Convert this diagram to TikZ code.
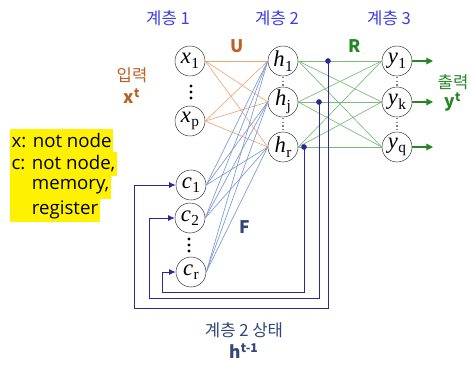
\documentclass[tikz,border=0pt]{standalone}
\usepackage{fontspec}
\setmainfont{Noto Sans CJK KR}
\newfontfamily\notefont{Open Sans}
\newfontfamily\tmfont{Liberation Serif}
\usetikzlibrary{arrows.meta,calc}
\definecolor{lyrblue}{RGB}{60,60,235}
\definecolor{inbrown}{RGB}{190,95,35}
\definecolor{outgreen}{RGB}{35,135,35}
\definecolor{fbnavy}{RGB}{45,40,150}
\definecolor{stblue}{RGB}{50,70,120}
\definecolor{uorange}{RGB}{238,168,120}
\definecolor{fblue}{RGB}{125,155,210}
\definecolor{rgreen}{RGB}{120,188,120}
\tikzset{
  neuron/.style={circle,draw=black!75,thin,fill=white,minimum size=22.5pt,inner sep=0pt},
  lbl/.style={font=\fontsize{12.5}{14}\selectfont},
  blbl/.style={font=\bfseries\fontsize{13}{14}\selectfont},
  ulink/.style={uorange,line width=0.5pt},   % U weights
  flink/.style={fblue,line width=0.5pt},     % F weights
  rlink/.style={rgreen,line width=0.5pt},    % R weights
  fback/.style={fbnavy,line width=0.7pt,-{Latex[length=5pt,width=4.5pt]}},
  outarr/.style={outgreen,line width=0.9pt,-{Triangle[length=5pt,width=5pt]}},
  jdot/.style={circle,fill=fbnavy,inner sep=1.5pt},
  note/.style={fill=yellow,anchor=west,inner xsep=1pt,inner ysep=0pt,minimum height=17.4pt,
               font=\notefont\fontsize{14}{15}\selectfont},
  vdots/.style={gray,dotted,line width=0.8pt},
}
\newcommand{\unitlbl}[2]{% letter, index
  {\tmfont\fontsize{17}{17}\selectfont\itshape #1}\kern0.3pt\raisebox{-3.5pt}{\tmfont\fontsize{11.5}{12}\selectfont #2}%
}
\newcommand{\unitdots}[3]{% x, y1, y2
  \draw[vdots] (#1,#2) -- (#1,#3);
}
\newcommand{\bigdots}[2]{% x, y of middle dot
  \foreach \k in {-6,0,6} \fill (#1,#2+\k) circle (1.6);
}

\begin{document}
\begin{tikzpicture}[x=0.75pt,y=-0.75pt]
  \useasboundingbox (0,0) rectangle (470,372);
  % layer titles
  \node[lbl,lyrblue] (t1) at (168,18) {계층 1};
  \node[lbl,lyrblue] (t2) at (277,18) {계층 2};
  \node[lbl,lyrblue] (t3) at (389,18) {계층 3};
  % input and context units
  \node[neuron] (x1) at (190,61) {\unitlbl{x}{1}};
  \node[neuron] (xp) at (190,121) {\unitlbl{x}{p}};
  \node[neuron] (c1) at (191,185) {\unitlbl{c}{1}};
  \node[neuron] (c2) at (190,218) {\unitlbl{c}{2}};
  \node[neuron] (cr) at (191,272) {\unitlbl{c}{r}};
  \bigdots{191}{92}
  \bigdots{189}{245}
  % hidden units
  \node[neuron] (h1) at (283,61) {\unitlbl{h}{1}};
  \node[neuron] (hj) at (283,102) {\unitlbl{h}{j}};
  \node[neuron] (hr) at (283,147) {\unitlbl{h}{r}};
  \unitdots{283}{77}{88}
  \unitdots{283}{118}{132}
  % output units
  \node[neuron] (y1) at (397,61) {\unitlbl{y}{1}};
  \node[neuron] (yk) at (397,102) {\unitlbl{y}{k}};
  \node[neuron] (yq) at (397,147) {\unitlbl{y}{q}};
  \unitdots{397}{77}{88}
  \unitdots{397}{118}{132}
  % weights
  \foreach \a in {x1,xp}
    \foreach \b in {h1,hj,hr} \draw[ulink] (\a.east) -- (\b.west);
  \foreach \a in {c1,c2,cr}
    \foreach \b in {h1,hj,hr} \draw[flink] (\a.east) -- (\b.west);
  \foreach \a in {h1,hj,hr}
    \foreach \b in {y1,yk,yq} \draw[rlink] (\a.east) -- (\b.west);
  \node[blbl,inbrown] (U) at (237,46) {U};
  \node[blbl,outgreen] (R) at (355,46) {R};
  \node[blbl,stblue] (F) at (245,227) {F};
  % outputs
  \coordinate (o1) at (433,61);
  \coordinate (ok) at (433,102);
  \coordinate (oq) at (433,147);
  \draw[outarr] (y1.east) -- (o1);
  \draw[outarr] (yk.east) -- (ok);
  \draw[outarr] (yq.east) -- (oq);
  % copy back of hidden state
  \coordinate (d1) at (328,61);
  \coordinate (dj) at (319,102);
  \coordinate (dr) at (304,147);
  \draw[fback] (d1) |- (134,308) |- (c1.west);
  \draw[fback] (dj) |- (149,298) |- (c2.west);
  \draw[fback] (dr) |- (162,292) |- (cr.west);
  \foreach \d in {d1,dj,dr} \node[jdot] at (\d) {};
  % side labels
  \node[lbl,inbrown] (inl) at (132,75) {입력};
  \node[blbl,inbrown] (inx) at (132,96) {x\textsuperscript{t}};
  \node[lbl,outgreen] (outl) at (453,82) {출력};
  \node[blbl,outgreen] (outy) at (453,102) {y\textsuperscript{t}};
  \node[lbl,stblue] (st) at (244,330) {계층 2 상태};
  \node[blbl,stblue] (sth) at (244,351) {h\textsuperscript{t-1}};
  % note
  \node[note] (n1) at (10,141) {x: not node};
  \node[note] (n2) at (10,164) {c: not node,};
  \node[note] (n3) at (10,187) {\phantom{c: }memory,};
  \node[note] (n4) at (10,210) {\phantom{c: }register};
\end{tikzpicture}
\end{document}
